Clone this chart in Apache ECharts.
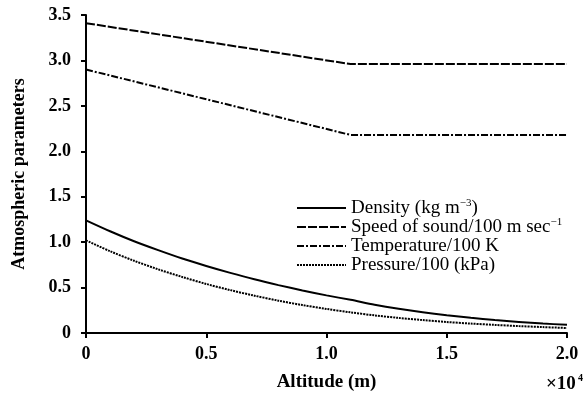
<!DOCTYPE html>
<html><head><meta charset="utf-8">
<script src="https://cdn.jsdelivr.net/npm/echarts@6/dist/echarts.min.js"></script>
<style>html,body{margin:0;padding:0;background:#fff}#c{width:584px;height:397px}</style>
</head><body><div id="c"></div>
<script>
const altitude = [0,1000,2000,3000,4000,5000,6000,7000,8000,9000,10000,11000,12000,13000,14000,15000,16000,17000,18000,19000,20000];
const density = [1.24,1.12,1.01,0.912,0.82,0.738,0.662,0.591,0.527,0.468,0.414,0.365,0.312,0.267,0.228,0.195,0.167,0.142,0.122,0.104,0.09];
const pressure = [1.02,0.90,0.795,0.701,0.617,0.540,0.472,0.411,0.356,0.307,0.265,0.227,0.194,0.166,0.142,0.121,0.104,0.089,0.076,0.065,0.055];
const soundAlt = [0,11000,20000];
const sound = [3.41,2.96,2.96];
const tempAlt = [0,11000,20000];
const temperature = [2.90,2.18,2.18];
const seriesNames = ['Density','Speed','Temperature','Pressure'];
const xTicks = ['0','0.5','1.0','1.5','2.0'];

const zip = (xs, ys) => xs.map((x,i)=>[x,ys[i]]);
const font = 'Liberation Serif';
const chart = echarts.init(document.getElementById('c'));
const ls = (type) => ({color:'#000', width:2, type:type});
chart.setOption({
  animation:false,
  backgroundColor:'#fff',
  grid:{left:86,right:17,top:15,bottom:63,containLabel:false},
  xAxis:{type:'value',min:0,max:20000,interval:5000,
    name:'Altitude (m)',nameLocation:'middle',nameGap:40,
    nameTextStyle:{fontFamily:font,fontSize:19,fontWeight:'bold',color:'#000'},
    axisLine:{lineStyle:{color:'#000',width:2}},
    axisTick:{length:5,lineStyle:{color:'#000',width:2}},
    splitLine:{show:false},
    axisLabel:{fontFamily:font,fontSize:18,fontWeight:'bold',color:'#000',margin:12,
      formatter:(v)=>xTicks[Math.round(v/5000)]}
  },
  yAxis:{type:'value',min:0,max:3.5,interval:0.5,
    name:'Atmospheric parameters',nameLocation:'middle',nameGap:58,
    nameTextStyle:{fontFamily:font,fontSize:18,fontWeight:'bold',color:'#000'},
    axisLine:{show:true,lineStyle:{color:'#000',width:2}},
    axisTick:{show:true,length:5,lineStyle:{color:'#000',width:2}},
    splitLine:{show:false},
    axisLabel:{fontFamily:font,fontSize:18,fontWeight:'bold',color:'#000',margin:15,
      formatter:(v)=> v===0?'0':v.toFixed(1)}
  },
  legend:{left:291,top:193,orient:'vertical',itemWidth:49,itemHeight:14,itemGap:-1,
    data:seriesNames,
    itemStyle:{opacity:0},
    textStyle:{fontFamily:font,fontSize:19,color:'#000',lineHeight:20,
      rich:{a:{fontFamily:font,fontSize:19,color:'#000',lineHeight:20},s:{fontFamily:font,fontSize:11,color:'#000',verticalAlign:'top',lineHeight:20}}},
    formatter:(n)=>({
      Density:'{a|Density (kg m}{s|−3}{a|)}',
      Speed:'{a|Speed of sound/100 m sec}{s|−1}',
      Temperature:'{a|Temperature/100 K}',
      Pressure:'{a|Pressure/100 (kPa)}'
    })[n]
  },
  graphic:[{type:'text',left:546,top:375,style:{text:'×10',font:'bold 19px "Liberation Serif"',fill:'#000'}},
           {type:'text',left:578,top:373,style:{text:'4',font:'bold 10px "Liberation Serif"',fill:'#000'}}],
  series:[
    {name:'Density',type:'line',symbol:'none',data:zip(altitude,density),lineStyle:ls('solid'),itemStyle:{color:'#000'},smooth:0.3},
    {name:'Speed',type:'line',symbol:'none',data:zip(soundAlt,sound),lineStyle:ls([9,2]),itemStyle:{color:'#000'}},
    {name:'Temperature',type:'line',symbol:'none',data:zip(tempAlt,temperature),lineStyle:ls([7,2,2,2]),itemStyle:{color:'#000'}},
    {name:'Pressure',type:'line',symbol:'none',data:zip(altitude,pressure),lineStyle:ls([2,1]),itemStyle:{color:'#000'},smooth:0.3}
  ]
});
</script></body></html>
